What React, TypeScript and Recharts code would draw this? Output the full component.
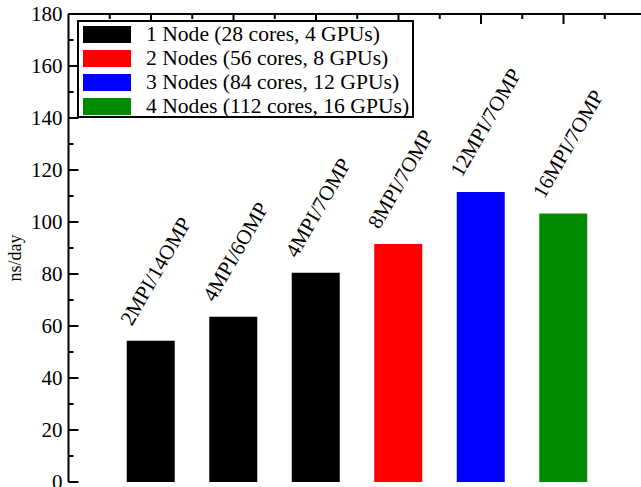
import React from 'react';
import { BarChart, Bar, XAxis, YAxis, Cell, LabelList } from 'recharts';

const configs = ['2MPI/14OMP', '4MPI/6OMP', '4MPI/7OMP', '8MPI/7OMP', '12MPI/7OMP', '16MPI/7OMP'];
const nsPerDay = [54.3, 63.6, 80.5, 91.5, 111.5, 103.3];
const nodeIndex = [0, 0, 0, 1, 2, 3];
const nodeLabels = [
  '1 Node (28 cores, 4 GPUs)',
  '2 Nodes (56 cores, 8 GPUs)',
  '3 Nodes (84 cores, 12 GPUs)',
  '4 Nodes (112 cores, 16 GPUs)',
];
const nodeColors = ['#000000', '#ff0000', '#0000ff', '#008b00'];
const xDomain = [0, 7];
const xBarTicks = [1, 2, 3, 4, 5, 6];
const xFrameTicks = [0.5, 1, 1.5, 2, 2.5, 3, 3.5, 4, 4.5, 5, 5.5, 6, 6.5];
const yTicks = [0, 10, 20, 30, 40, 50, 60, 70, 80, 90, 100, 110, 120, 130, 140, 150, 160, 170, 180];
const yLabelStep = 20;
const yAxisTitle = 'ns/day';

const data = configs.map((c, i) => ({ pos: i + 1, config: c, value: nsPerDay[i], node: nodeIndex[i] }));

const FONT = '"Liberation Serif", "Times New Roman", Times, serif';

const makeXTick = (dir: number) => (props: any) => {
  const { x, y, payload } = props;
  const major = Number.isInteger(payload.value);
  const X = Number(x);
  const Y = Number(y);
  return <line x1={X} x2={X} y1={Y} y2={Y + dir * (major ? 10 : 5)} stroke="#000" strokeWidth={2} />;
};

const makeYTick = (dir: number, showText: boolean) => (props: any) => {
  const { x, y, payload } = props;
  const v = payload.value;
  const major = v % yLabelStep === 0;
  const X = Number(x);
  const Y = Number(y);
  return (
    <g>
      <line x1={X} x2={X + dir * (major ? 10 : 5)} y1={Y} y2={Y} stroke="#000" strokeWidth={2} />
      {showText && major && (
        <text x={X - 6} y={Y} dy="0.35em" textAnchor="end" fontSize={21} fontFamily={FONT} fill="#000">
          {v}
        </text>
      )}
    </g>
  );
};

const BarLabel = (props: any) => {
  const { x, y, width, value } = props;
  const cx = Number(x) + Number(width) / 2 - 19;
  const cy = Number(y) - 14;
  return (
    <text x={cx} y={cy} transform={`rotate(-60 ${cx} ${cy})`} fontSize={21} fontFamily={FONT} fill="#000">
      {value}
    </text>
  );
};

const YTitle = (props: any) => {
  const vb = props.viewBox || {};
  const cy = (vb.y ?? 14) + (vb.height ?? 468) / 2 + 10;
  const cx = 21;
  return (
    <text x={cx} y={cy} transform={`rotate(-90 ${cx} ${cy})`} textAnchor="middle" fontSize={18} fontFamily={FONT} fill="#000">
      {yAxisTitle}
    </text>
  );
};

const Legend = () => (
  <div
    style={{
      position: 'absolute',
      left: 77,
      top: 20,
      width: 333,
      height: 94,
      border: '2px solid #000',
      background: '#fff',
      fontFamily: FONT,
      fontSize: 21.6,
      color: '#000',
    }}
  >
    {nodeLabels.map((lab, i) => (
      <div key={lab} style={{ position: 'absolute', left: 4, top: 3 + i * 24, height: 18, display: 'flex', alignItems: 'center', whiteSpace: 'nowrap' }}>
        <div style={{ width: 48, height: 17, background: nodeColors[i] }} />
        <span style={{ marginLeft: 15, lineHeight: '18px' }}>{lab}</span>
      </div>
    ))}
  </div>
);

const axisLineStyle = { stroke: '#000', strokeWidth: 2 };

export default function App() {
  return (
    <div style={{ position: 'relative', width: 641, height: 487, overflow: 'hidden', background: '#fff' }}>
      <style>{'body{margin:0;}'}</style>
      <BarChart width={660} height={487} data={data} margin={{ top: 13, right: 13, bottom: 4, left: 0 }}>
        <XAxis type="number" dataKey="pos" domain={xDomain} ticks={xBarTicks} hide />
        <XAxis
          xAxisId="bottom"
          type="number"
          dataKey="pos"
          domain={xDomain}
          ticks={xFrameTicks}
          height={1}
          tickSize={0}
          tickMargin={0}
          interval={0}
          tick={makeXTick(-1)}
          axisLine={axisLineStyle}
          tickLine={false}
        />
        <XAxis
          xAxisId="top"
          orientation="top"
          type="number"
          dataKey="pos"
          domain={xDomain}
          ticks={xFrameTicks}
          height={1}
          tickSize={0}
          tickMargin={0}
          interval={0}
          tick={makeXTick(1)}
          axisLine={axisLineStyle}
          tickLine={false}
        />
        <YAxis
          width={68.5}
          domain={[0, 180]}
          ticks={yTicks}
          interval={0}
          tickSize={0}
          tickMargin={0}
          tick={makeYTick(1, true)}
          axisLine={axisLineStyle}
          tickLine={false}
          label={<YTitle />}
        />
        <YAxis
          yAxisId="right"
          orientation="right"
          width={1}
          domain={[0, 180]}
          ticks={yTicks}
          interval={0}
          tickSize={0}
          tickMargin={0}
          tick={makeYTick(-1, false)}
          axisLine={axisLineStyle}
          tickLine={false}
        />
        <Bar dataKey="value" barSize={48} isAnimationActive={false}>
          {data.map((d, i) => (
            <Cell key={i} fill={nodeColors[d.node]} />
          ))}
          <LabelList dataKey="config" content={BarLabel} />
        </Bar>
      </BarChart>
      <Legend />
    </div>
  );
}
